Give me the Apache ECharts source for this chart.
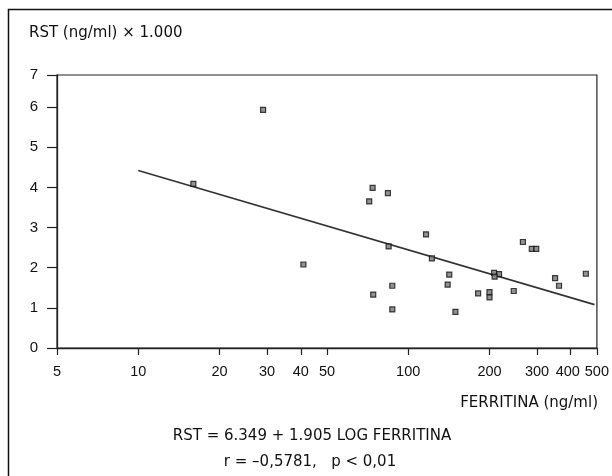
<!DOCTYPE html>
<html>
<head>
<meta charset="utf-8">
<script src="https://cdn.jsdelivr.net/npm/echarts@6/dist/echarts.min.js"></script>
<style>html,body{margin:0;padding:0;background:#fff}#c{width:612px;height:476px}</style>
</head>
<body>
<div id="c"></div>
<script>
// Data (x: ferritina ng/ml, y: RST ng/ml x 1000)
var ferritina = [29, 16, 73.8, 84.1, 71.7, 116.4, 84.6, 122.4, 141.9, 140, 87.3, 74.2, 87.3, 149.6, 40.9, 181.5, 200, 200, 208, 217, 209, 246, 266, 287, 298, 350, 362, 455];
var rst       = [5.93, 4.09, 3.99, 3.86, 3.65, 2.83, 2.53, 2.23, 1.83, 1.58, 1.55, 1.33, 0.96, 0.90, 2.08, 1.36, 1.39, 1.26, 1.87, 1.84, 1.78, 1.42, 2.64, 2.47, 2.47, 1.74, 1.55, 1.85];
// Regression line end points as drawn
var lineX = [10, 490];
var lineY = [4.42, 1.08];
// Tick labels
var xTicks = [5, 10, 20, 30, 40, 50, 100, 200, 300, 400, 500];
var yTicks = [0, 1, 2, 3, 4, 5, 6, 6.8];
var yTickLabels = ['0', '1', '2', '3', '4', '5', '6', '7'];
var yTitle = 'RST (ng/ml) \u00d7 1.000';
var xTitle = 'FERRITINA (ng/ml)';
var eqText = 'RST = 6.349 + 1.905 LOG FERRITINA';
var statText = 'r = \u20130,5781,   p < 0,01';

var FONT = 'DejaVu Sans';
var FS = 15;
var TFONT = 'Liberation Sans';
var TFS = 14.5;
var pts = ferritina.map(function (v, i) { return [v, rst[i]]; });
var linePts = lineX.map(function (v, i) { return [v, lineY[i]]; });

var chart = echarts.init(document.getElementById('c'), null, {renderer: 'canvas'});
chart.setOption({
  animation: false,
  backgroundColor: '#fff',
  textStyle: {fontFamily: FONT},
  grid: {left: 57, right: 15, top: 75, bottom: 128, show: true, borderColor: '#222', borderWidth: 1.2, backgroundColor: 'transparent'},
  xAxis: {
    type: 'log', logBase: 10, min: xTicks[0], max: xTicks[xTicks.length - 1],
    axisLine: {show: true, lineStyle: {color: '#222', width: 1.3}},
    axisTick: {show: true, length: 7, inside: false, customValues: xTicks, lineStyle: {color: '#222', width: 1.2}},
    axisLabel: {customValues: xTicks, margin: 16, color: '#111', fontSize: TFS, fontFamily: TFONT,
      showMinLabel: true, showMaxLabel: true, hideOverlap: false,
      formatter: function (v) {
        var n = Math.round(v);
        return n === 400 ? '{s|' + n + '}' : String(n);
      },
      rich: {s: {fontSize: TFS, fontFamily: TFONT, color: '#111', padding: [0, 6, 0, 0]}}},
    splitLine: {show: false}, minorTick: {show: false}
  },
  yAxis: {
    type: 'value', min: 0, max: yTicks[yTicks.length - 1],
    axisLine: {show: true, lineStyle: {color: '#222', width: 1.3}},
    axisTick: {show: true, length: 10, customValues: yTicks, lineStyle: {color: '#222', width: 1.2}},
    axisLabel: {customValues: yTicks, margin: 19, color: '#111', fontSize: 15, fontFamily: TFONT,
      showMinLabel: true, showMaxLabel: true,
      formatter: function (v) { var i = yTicks.indexOf(v); return i >= 0 ? yTickLabels[i] : ''; }},
    splitLine: {show: false}
  },
  series: [
    {type: 'line', data: linePts, symbol: 'none', lineStyle: {color: '#333', width: 1.6}, z: 2},
    {type: 'scatter', data: pts, symbol: 'rect', symbolSize: 5,
      itemStyle: {color: '#777', borderColor: '#111', borderWidth: 1.2}, z: 3}
  ],
  graphic: [
    {type: 'rect', left: 6, top: 7, shape: {width: 605, height: 470}, style: {fill: 'none', stroke: '#111', lineWidth: 1.5}, silent: true},
    {type: 'text', left: 29, top: 26, style: {text: yTitle, font: FS + 'px "' + FONT + '"', fill: '#111'}},
    {type: 'text', right: 14, top: 396, style: {text: xTitle, font: FS + 'px "' + FONT + '"', fill: '#111'}},
    {type: 'text', x: 312, y: 436, style: {text: eqText, font: FS + 'px "' + FONT + '"', fill: '#111', textAlign: 'center', textVerticalAlign: 'middle'}},
    {type: 'text', x: 310, y: 462, style: {text: statText, font: FS + 'px "' + FONT + '"', fill: '#111', textAlign: 'center', textVerticalAlign: 'middle'}}
  ]
});
</script>
</body>
</html>
